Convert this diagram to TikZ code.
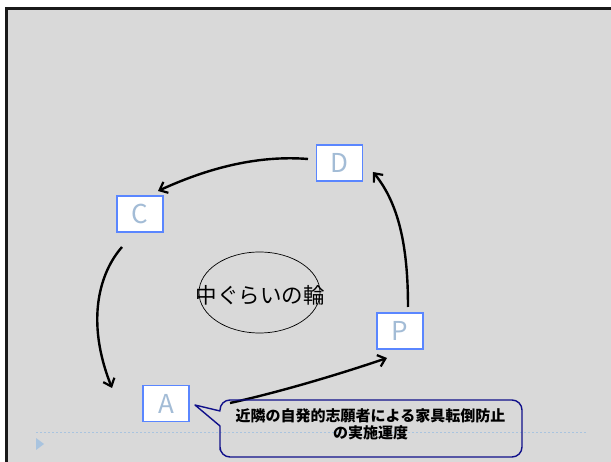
\documentclass[tikz,border=0pt]{standalone}
\usepackage{fontspec}
\setmainfont{Noto Sans CJK JP}
\newfontfamily\cjk{Noto Sans CJK JP}
\usetikzlibrary{arrows.meta,shapes.geometric}
\definecolor{bg}{HTML}{D9D9D9}
\definecolor{boxline}{HTML}{5A86FF}
\definecolor{letter}{HTML}{A3BCD6}
\definecolor{navyline}{HTML}{10108A}
\definecolor{guide}{HTML}{A9C4DF}
\tikzset{
  stagebox/.style={draw=boxline, line width=1.1pt, fill=white, minimum width=46pt, minimum height=36pt, inner sep=0pt, text=letter, font=\cjk\fontsize{26}{26}\selectfont},
  cyclearrow/.style={line width=2.4pt, black, -{Straight Barb[length=7pt,width=12pt,line width=2.2pt]}},
}
\begin{document}
\begin{tikzpicture}[x=1pt,y=-1pt]
\useasboundingbox (0,0) rectangle (611,462);
\fill[white] (0,0) rectangle (611,462);
\fill[bg] (6,8.5) rectangle (611,462);
\draw[line width=3pt, black!90] (6,462) -- (6,8.5) -- (611,8.5);
% guide line and marker
\draw[guide, line width=0.6pt, dash pattern=on 2pt off 2pt] (36,432) -- (587,432);
\fill[guide] (36,438) -- (44,444) -- (36,450) -- cycle;
% ellipse
\node[draw=black, line width=0.7pt, ellipse, minimum width=121pt, minimum height=81pt, inner sep=0pt] (ring) at (259.5,292.5) {};
\node[font=\cjk\fontsize{21.5}{21.5}\selectfont] (ringtext) at (260,295) {中ぐらいの輪};
% boxes
\node[stagebox] (D) at (339.5,163) {D};
\node[stagebox] (C) at (140,214) {C};
\node[stagebox] (P) at (400,331) {P};
\node[stagebox] (A) at (166,403.5) {A};
% arrow endpoints
\coordinate (cs) at (122,247);
\coordinate (ae) at (112,388);
\coordinate (as) at (230,403);
\coordinate (pe) at (387,358);
\coordinate (ps) at (408,307);
\coordinate (de) at (373,172);
\coordinate (ds) at (308,159);
\coordinate (ce) at (158,191);
\draw[cyclearrow] (cs) .. controls (100,272) and (85,320) .. (ae);
\draw[cyclearrow] (as) .. controls (280,392) and (340,374) .. (pe);
\draw[cyclearrow] (ps) .. controls (408,250) and (400,205) .. (de);
\draw[cyclearrow] (ds) .. controls (258,155) and (208,168) .. (ce);
% callout
\coordinate (tip) at (195,405);
\draw[navyline, line width=1.4pt, line join=round]
  (tip) -- (220,411) [rounded corners=10pt] -- (220,400) -- (522,400) -- (522,457) -- (220,457) -- (220,440) [sharp corners] -- (220,426) -- cycle;
\node[font=\cjk\bfseries\fontsize{15}{17}\selectfont, align=center, inner sep=0pt] (note) at (370.5,424.5) {近隣の自発的志願者による家具転倒防止\\の実施運度};
\end{tikzpicture}
\end{document}
